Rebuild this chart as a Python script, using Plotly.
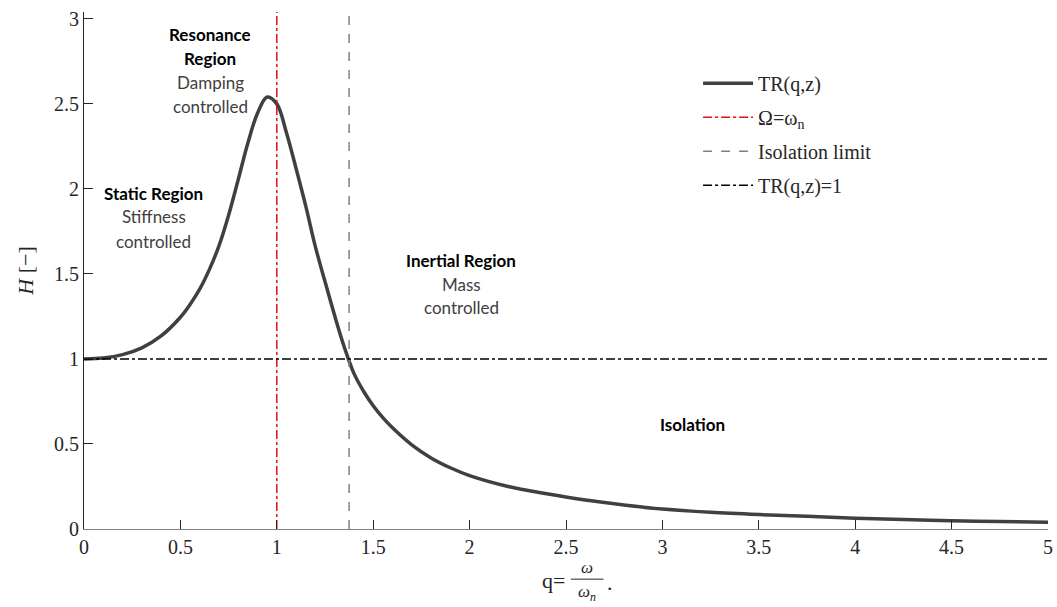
import plotly.graph_objects as go

# Transmissibility curve TR(q, z) sampled along the frequency ratio q
q_vals = [0.0, 0.1, 0.2, 0.3, 0.4, 0.5, 0.55, 0.6, 0.65, 0.7, 0.75, 0.8, 0.85,
          0.9, 0.95, 1.0, 1.05, 1.1, 1.15, 1.2, 1.25, 1.3, 1.35, 1.4, 1.45,
          1.5, 1.55, 1.6, 1.7, 1.8, 1.9, 2.0, 2.2, 2.4, 2.6, 2.8, 3.0, 3.25,
          3.5, 3.75, 4.0, 4.25, 4.5, 4.75, 5.0]
tr_vals = [1.000, 1.005, 1.025, 1.065, 1.135, 1.245, 1.32, 1.41, 1.525, 1.665,
           1.845, 2.055, 2.27, 2.445, 2.54, 2.50, 2.33, 2.12, 1.90, 1.66, 1.455,
           1.255, 1.07, 0.915, 0.81, 0.725, 0.655, 0.595, 0.495, 0.418, 0.36,
           0.314, 0.25, 0.207, 0.170, 0.141, 0.117, 0.098, 0.085, 0.075, 0.063,
           0.056, 0.049, 0.044, 0.039]

# Reference lines
resonance_q = 1.0
isolation_q = 1.375
unity_level = 1.0
y_top = 3.04
q_max = 5.0

x_ticks = [0, 0.5, 1, 1.5, 2, 2.5, 3, 3.5, 4, 4.5, 5]
x_tick_text = ["0", "0.5", "1", "1.5", "2", "2.5", "3", "3.5", "4", "4.5", "5"]
y_ticks = [0, 0.5, 1, 1.5, 2, 2.5, 3]
y_tick_text = ["0", "0.5", "1", "1.5", "2", "2.5", "3"]

# Region labels: (q, H, text, bold)
region_labels = [
    (0.654, 2.905, "Resonance", True),
    (0.654, 2.765, "Region", True),
    (0.654, 2.625, "Damping", False),
    (0.654, 2.485, "controlled", False),
    (0.363, 1.975, "Static Region", True),
    (0.363, 1.835, "Stiffness", False),
    (0.363, 1.690, "controlled", False),
    (1.956, 1.580, "Inertial Region", True),
    (1.956, 1.440, "Mass", False),
    (1.956, 1.300, "controlled", False),
    (3.154, 0.615, "Isolation", True),
]

serif = "Liberation Serif"
sans = "Lato"

fig = go.Figure()

fig.add_trace(go.Scatter(
    x=q_vals, y=tr_vals, mode="lines", name="TR(q,z)",
    line=dict(color="#404040", width=3.5, shape="spline", smoothing=1.0),
    legendgroup="a",
))
fig.add_trace(go.Scatter(
    x=[resonance_q, resonance_q], y=[0, y_top], mode="lines",
    name="Ω=ω<sub>n</sub>",
    line=dict(color="#e01010", width=1.5, dash="dashdot"),
    legendgroup="b",
))
fig.add_trace(go.Scatter(
    x=[isolation_q, isolation_q], y=[0, y_top], mode="lines",
    name="Isolation limit",
    line=dict(color="#808080", width=1.5, dash="dash"),
    legendgroup="c",
))
fig.add_trace(go.Scatter(
    x=[0, q_max], y=[unity_level, unity_level], mode="lines",
    name="TR(q,z)=1",
    line=dict(color="#000000", width=1.5, dash="dashdot"),
    legendgroup="d",
))

for qx, hy, txt, bold in region_labels:
    fig.add_annotation(
        x=qx, y=hy, xref="x", yref="y",
        text=f"<b>{txt}</b>" if bold else txt,
        showarrow=False, xanchor="center", yanchor="middle",
        font=dict(family=sans, size=17, color="#000000" if bold else "#404040"),
    )

# x-axis title: q = ω / ω_n .
title_font = dict(family=serif, size=22, color="#262626")
frac_font = dict(family=serif, size=17, color="#262626")
fig.add_annotation(x=0.501, y=-0.099, xref="paper", yref="paper", text="q=",
                   showarrow=False, xanchor="right", yanchor="middle", font=title_font)
fig.add_annotation(x=0.522, y=-0.074, xref="paper", yref="paper", text="<i>ω</i>",
                   showarrow=False, xanchor="center", yanchor="middle", font=frac_font)
fig.add_annotation(x=0.522, y=-0.124, xref="paper", yref="paper",
                   text="<i>ω<sub>n</sub></i>",
                   showarrow=False, xanchor="center", yanchor="middle", font=frac_font)
fig.add_shape(type="line", xref="paper", yref="paper",
              x0=0.505, x1=0.539, y0=-0.097, y1=-0.097,
              line=dict(color="#262626", width=1))
fig.add_annotation(x=0.540, y=-0.104, xref="paper", yref="paper", text=".",
                   showarrow=False, xanchor="left", yanchor="middle", font=title_font)

fig.update_layout(
    width=1057, height=607,
    margin=dict(l=84, r=9, t=12, b=78, autoexpand=False),
    paper_bgcolor="white", plot_bgcolor="white",
    showlegend=True,
    legend=dict(
        x=0.637, y=0.9, xanchor="left", yanchor="top",
        font=dict(family=serif, size=20, color="#262626"),
        bgcolor="rgba(0,0,0,0)", tracegroupgap=5, itemwidth=50,
    ),
    xaxis=dict(
        range=[0, q_max], tickvals=x_ticks, ticktext=x_tick_text,
        ticks="inside", ticklen=9, tickcolor="#262626", tickwidth=1,
        showline=True, linecolor="#808080", linewidth=1.2,
        showgrid=False, zeroline=False, automargin=False,
        tickfont=dict(family=serif, size=20, color="#262626"),
    ),
    yaxis=dict(
        range=[0, y_top], tickvals=y_ticks, ticktext=y_tick_text,
        ticks="inside", ticklen=9, tickcolor="#262626", tickwidth=1,
        showline=True, linecolor="#262626", linewidth=1.2,
        showgrid=False, zeroline=False, automargin=False,
        tickfont=dict(family=serif, size=20, color="#262626"),
        title=dict(text="<i>H</i> [−]", standoff=14,
                   font=dict(family=serif, size=22, color="#262626")),
    ),
)

fig.write_html("out.html")
